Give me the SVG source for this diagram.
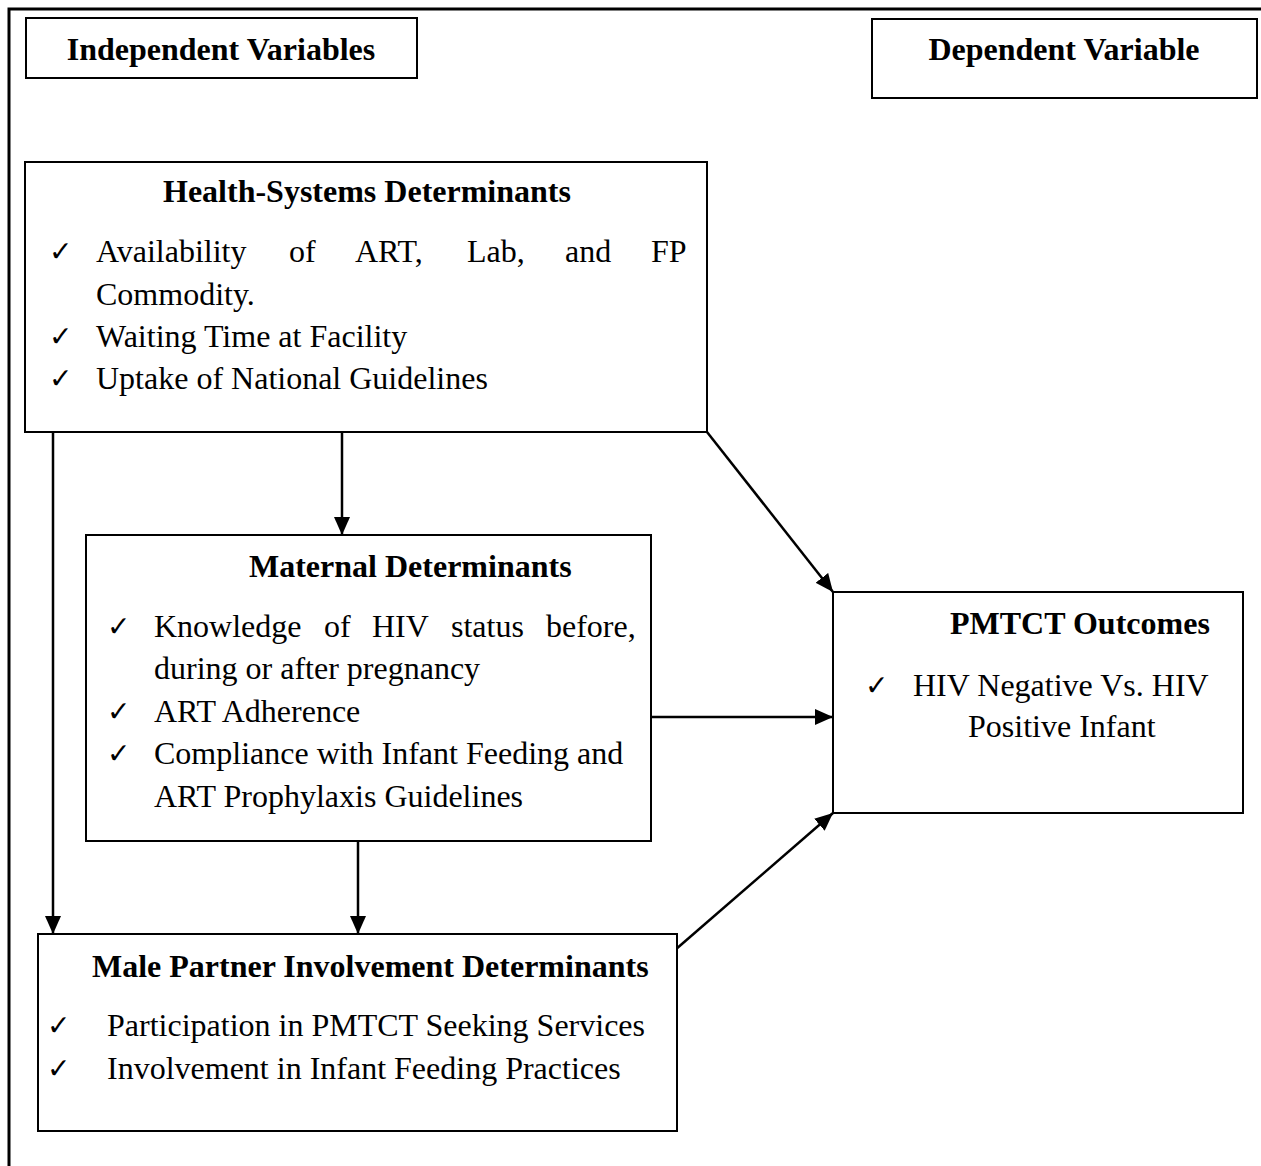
<svg xmlns="http://www.w3.org/2000/svg" width="1261" height="1166" viewBox="0 0 1261 1166">
<style>
.box{fill:#fff;stroke:#000;stroke-width:2}
.frame{stroke:#000;stroke-width:3;fill:none}
.h{font-family:"Liberation Serif","Times New Roman",serif;font-weight:bold;font-size:32px;fill:#000}
.t{font-family:"Liberation Serif","Times New Roman",serif;font-size:32px;fill:#000}
.ck{font-family:"DejaVu Sans",sans-serif;font-size:28px;fill:#000}
.c{stroke:#000;stroke-width:2.5;fill:none;marker-end:url(#ah)}
</style>
<defs>
<marker id="ah" markerUnits="userSpaceOnUse" markerWidth="20" markerHeight="18" refX="18" refY="8" orient="auto">
<path d="M0,0 L18,8 L0,16 Z" fill="#000"/>
</marker>
</defs>
<rect width="1261" height="1166" fill="#fff"/>
<path class="frame" d="M9,1166 V9 H1261"/>

<g id="independent-label">
<rect class="box" x="26" y="18" width="391" height="60"/>
<text class="h" x="221" y="60" text-anchor="middle">Independent Variables</text>
</g>
<g id="dependent-label">
<rect class="box" x="872" y="19" width="385" height="79"/>
<text class="h" x="1064" y="60" text-anchor="middle">Dependent Variable</text>
</g>

<g id="connectors">
<line class="c" x1="53" y1="432" x2="53" y2="934"/>
<line class="c" x1="342" y1="432" x2="342" y2="535"/>
<line class="c" x1="707" y1="432" x2="833" y2="592"/>
<line class="c" x1="651" y1="717" x2="833" y2="717"/>
<line class="c" x1="358" y1="841" x2="358" y2="934"/>
<line class="c" x1="675" y1="950" x2="833" y2="813"/>
</g>

<g id="health-systems">
<rect class="box" x="25" y="162" width="682" height="270"/>
<text class="h" x="163" y="202">Health-Systems Determinants</text>
<text class="ck" x="49" y="261">✓</text>
<text class="t" y="262"><tspan x="96">Availability</tspan><tspan x="289">of</tspan><tspan x="355">ART,</tspan><tspan x="467">Lab,</tspan><tspan x="565">and</tspan><tspan x="651">FP</tspan></text>
<text class="t" x="96" y="305">Commodity.</text>
<text class="ck" x="49" y="346">✓</text>
<text class="t" x="96" y="347">Waiting Time at Facility</text>
<text class="ck" x="49" y="388">✓</text>
<text class="t" x="96" y="389">Uptake of National Guidelines</text>
</g>

<g id="maternal">
<rect class="box" x="86" y="535" width="565" height="306"/>
<text class="h" x="249" y="577">Maternal Determinants</text>
<text class="ck" x="107" y="636">✓</text>
<text class="t" y="637"><tspan x="154">Knowledge</tspan><tspan x="324">of</tspan><tspan x="372">HIV</tspan><tspan x="451">status</tspan><tspan x="546">before,</tspan></text>
<text class="t" x="154" y="679">during or after pregnancy</text>
<text class="ck" x="107" y="721">✓</text>
<text class="t" x="154" y="722">ART Adherence</text>
<text class="ck" x="107" y="763">✓</text>
<text class="t" x="154" y="764">Compliance with Infant Feeding and</text>
<text class="t" x="154" y="807">ART Prophylaxis Guidelines</text>
</g>

<g id="pmtct-outcomes">
<rect class="box" x="833" y="592" width="410" height="221"/>
<text class="h" x="950" y="634">PMTCT Outcomes</text>
<text class="ck" x="865" y="695">✓</text>
<text class="t" x="913" y="696">HIV Negative Vs. HIV</text>
<text class="t" x="968" y="737">Positive Infant</text>
</g>

<g id="male-partner">
<rect class="box" x="38" y="934" width="639" height="197"/>
<text class="h" x="92" y="977">Male Partner Involvement Determinants</text>
<text class="ck" x="47" y="1035">✓</text>
<text class="t" x="107" y="1036">Participation in PMTCT Seeking Services</text>
<text class="ck" x="47" y="1078">✓</text>
<text class="t" x="107" y="1079">Involvement in Infant Feeding Practices</text>
</g>
</svg>
